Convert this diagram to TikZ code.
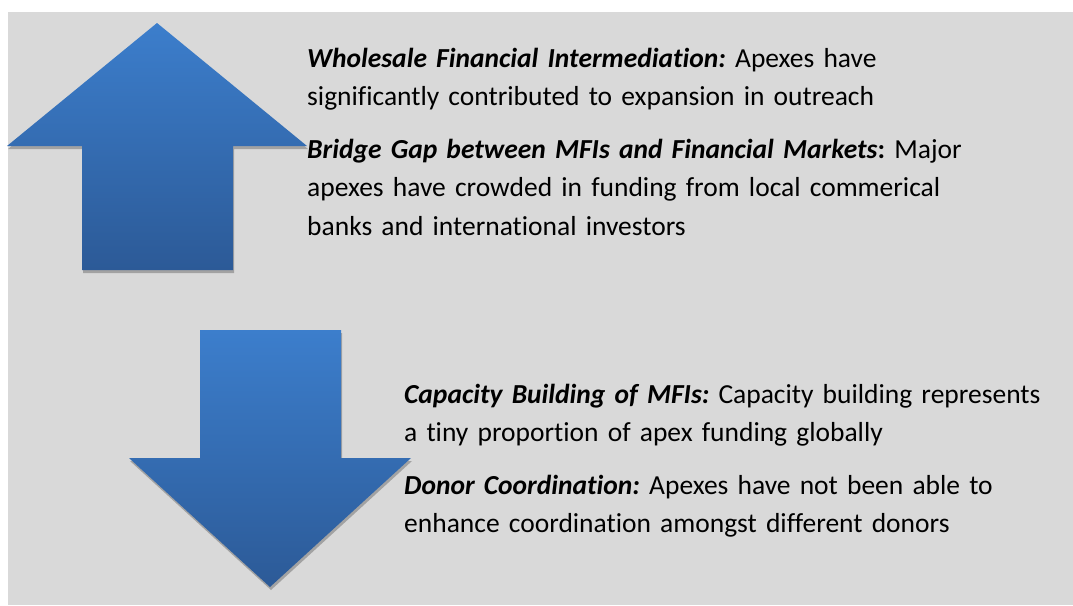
\documentclass[tikz,border=0pt]{standalone}
\usepackage{fontspec}
\setmainfont{Carlito}[Ligatures=NoCommon]
\usepackage{xcolor}
\usetikzlibrary{shadows}

\definecolor{panelgray}{HTML}{D9D9D9}
\definecolor{arrowtop}{HTML}{3C7ECC}
\definecolor{arrowbot}{HTML}{2C5A97}

\begin{document}
\frenchspacing
\begin{tikzpicture}[x=1pt, y=-1pt,
  txt/.style={anchor=base west, inner sep=0pt, text width=700pt, align=left,
    font=\fontsize{27.5}{38.7}\selectfont},
  bigarrow/.style={top color=arrowtop, bottom color=arrowbot,
    drop shadow={shadow xshift=1pt, shadow yshift=-3pt, opacity=0.25, fill=black}}]

\useasboundingbox (0,0) rectangle (1073,605);
\fill[panelgray] (8,12) rectangle (1073,605); % background panel

% up arrow
\coordinate (UT)  at (157,23);  % tip
\coordinate (UHL) at (7,146);
\coordinate (UHR) at (307,146);
\coordinate (USL) at (82,146);
\coordinate (USR) at (233,146);
\coordinate (UBL) at (82,270);
\coordinate (UBR) at (233,270);
\path[bigarrow] (UT) -- (UHR) -- (USR) -- (UBR) -- (UBL) -- (USL) -- (UHL) -- cycle;

% down arrow
\coordinate (DTL) at (200,330);
\coordinate (DTR) at (341,330);
\coordinate (DSL) at (200,458);
\coordinate (DSR) at (341,458);
\coordinate (DHL) at (129,458);
\coordinate (DHR) at (411,458);
\coordinate (DT)  at (270,587);  % tip
\path[bigarrow] (DTL) -- (DTR) -- (DSR) -- (DHR) -- (DT) -- (DHL) -- (DSL) -- cycle;

% text next to the up arrow
\node[txt] (wholesale) at (307,67)
  {\textbf{\textit{Wholesale Financial Intermediation:}} Apexes have\\
   significantly contributed to expansion in outreach};
\node[txt] (bridge) at (307,158)
  {\textbf{\textit{Bridge Gap between MFIs and Financial Markets}}\textbf{:} Major\\
   apexes have crowded in funding from local commerical\\
   banks and international investors};

% text next to the down arrow
\node[txt] (capacity) at (404,403)
  {\textbf{\textit{Capacity Building of MFIs:}} Capacity building represents\\
   a tiny proportion of apex funding globally};
\node[txt] (donor) at (404,494)
  {\textbf{\textit{Donor Coordination:}} Apexes have not been able to\\
   enhance coordination amongst different donors};
\end{tikzpicture}
\end{document}
